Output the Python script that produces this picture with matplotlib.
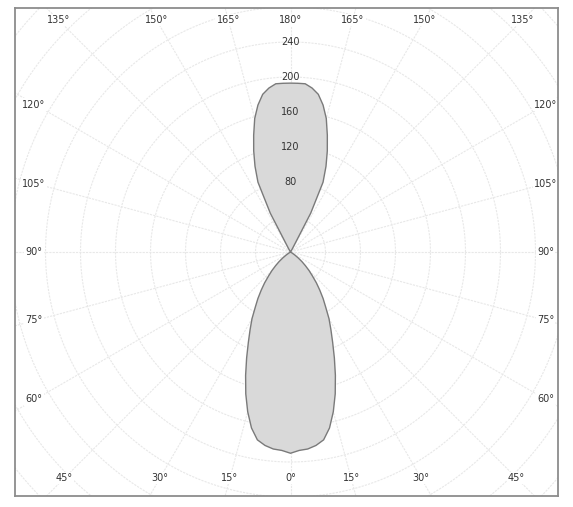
import numpy as np
import matplotlib
matplotlib.use("Agg")
from matplotlib import pyplot as plt

# intensite lumineuse (cd) en fonction de gamma (deg), courbe symetrique
gamma = [0, 2.5, 5, 7.5, 10, 12.5, 15, 17.5, 20, 22.5, 25, 27.5, 30, 32.5, 35, 37.5,
         40, 42.5, 45, 47.5, 50, 52.5, 55, 57.5, 60, 90, 120, 147.5, 150, 152.5, 155,
         157.5, 160, 162.5, 165, 167.5, 170, 172.5, 175, 177.5, 180]
intensite = [230, 227, 226, 223, 218, 206, 189, 170, 150, 131, 114, 100, 88, 75, 65, 55,
             46, 37, 30, 23, 17, 11, 6, 2, 0, 0, 0, 0, 4, 50, 88,
             106, 123, 140, 158, 172, 183, 189, 193, 193, 193]

rayons_labels = [80, 120, 160, 200, 240]
angles_bas = [0, 15, 30, 45]
angles_cote = [60, 75, 90, 105, 120]
angles_haut = [135, 150, 165, 180]

px = 0.875  # pixels par cd
fig = plt.figure(figsize=(5.73, 5.07), dpi=100)
ax = fig.add_axes([15/573, 11/507, 543/573, 488/507])
ax.set_xlim(-275.5/px, 267.5/px)
ax.set_ylim(-244/px, 244/px)
ax.set_aspect('equal')
ax.set_xticks([])
ax.set_yticks([])
for s in ax.spines.values():
    s.set_color('#8c8c8c')
    s.set_linewidth(1.3)
    s.set_zorder(10)

grille = '#e8e8e8'
# cercles
t = np.linspace(0, 2*np.pi, 400)
for r in range(40, 480, 40):
    ax.plot(r*np.cos(t), r*np.sin(t), color=grille, lw=0.8, ls=(0, (2, 1)), zorder=1)
# rayons tous les 15 deg
for a in range(0, 360, 15):
    ar = np.radians(a)
    ax.plot([0, 500*np.sin(ar)], [0, -500*np.cos(ar)], color=grille, lw=0.8, ls=(0, (2, 1)), zorder=1)

# courbe
g = np.radians(np.array(gamma))
I = np.array(intensite)
xs = np.concatenate([I*np.sin(g), -(I*np.sin(g))[::-1]])
ys = np.concatenate([-I*np.cos(g), (-I*np.cos(g))[::-1]])
ax.fill(xs, ys, facecolor='#d9d9d9', edgecolor='#7a7a7a', lw=1.0, zorder=3)

txt = dict(fontsize=7, color='#333333', ha='center', va='center', zorder=5,
           bbox=dict(facecolor='white', edgecolor='none', pad=1.0))
for r in rayons_labels:
    ax.text(0, r, str(r), **dict(txt, bbox=None))

yb = -226/px
for a in angles_bas:
    x = -yb*np.tan(np.radians(a))
    ax.text(x, yb, f"{a}°", **txt)
    if a != 0:
        ax.text(-x, yb, f"{a}°", **txt)
xc = 255/px
for a in angles_cote:
    y = -xc/np.tan(np.radians(a)) if a != 90 else 0
    ax.text(xc, y, f"{a}°", **txt)
    ax.text(-xc - 2, y, f"{a}°", **txt)
yh = 232/px
for a in angles_haut:
    x = yh*np.tan(np.radians(180 - a))
    ax.text(x, yh, f"{a}°", **txt)
    if a != 180:
        ax.text(-x, yh, f"{a}°", **txt)

fig.savefig("out.png", dpi=100)
